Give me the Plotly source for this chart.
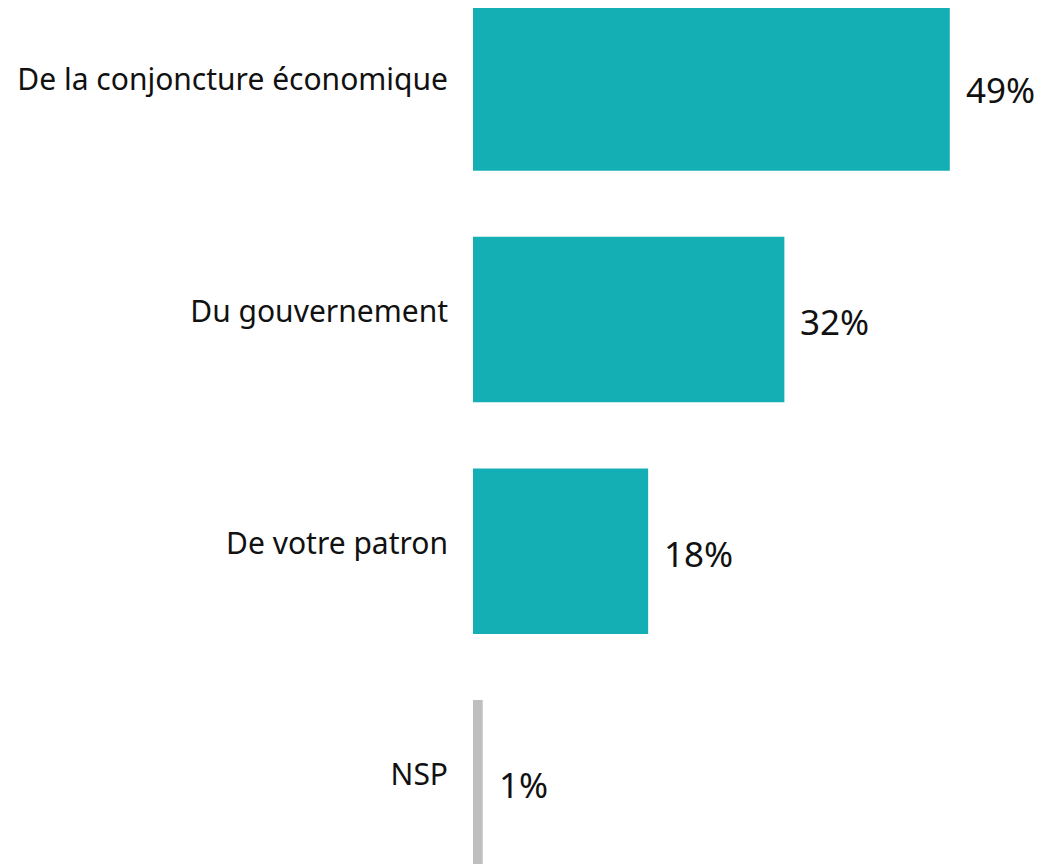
import plotly.graph_objects as go

categories = ["De la conjoncture économique", "Du gouvernement", "De votre patron", "NSP"]
values = [49, 32, 18, 1]
labels = ["49%", "32%", "18%", "1%"]
colors = ["#14AFB5", "#14AFB5", "#14AFB5", "#BFBFBF"]

FONT = "Noto Sans"

fig = go.Figure()
fig.add_trace(go.Bar(
    x=values, y=categories, orientation="h",
    marker=dict(color=colors, line=dict(width=0)),
    width=0.715, hoverinfo="skip",
))

for c, v, t in zip(categories, values, labels):
    fig.add_annotation(x=v, y=c, text=t, showarrow=False, xanchor="left",
                       xshift=14, yshift=-2,
                       font=dict(family=FONT, size=35, color="#111111"))

fig.update_layout(
    width=1043, height=864,
    margin=dict(l=465, r=0, t=0, b=0),
    paper_bgcolor="white", plot_bgcolor="white",
    showlegend=False,
    xaxis=dict(range=[0, 59.4], visible=False),
    yaxis=dict(range=[3.385, -0.345], showgrid=False, zeroline=False,
               showline=False, ticks="", ticklabelstandoff=24,
               ticklabelshift=8,
               tickfont=dict(family=FONT, size=30, color="#111111")),
)

fig.write_html("out.html")
